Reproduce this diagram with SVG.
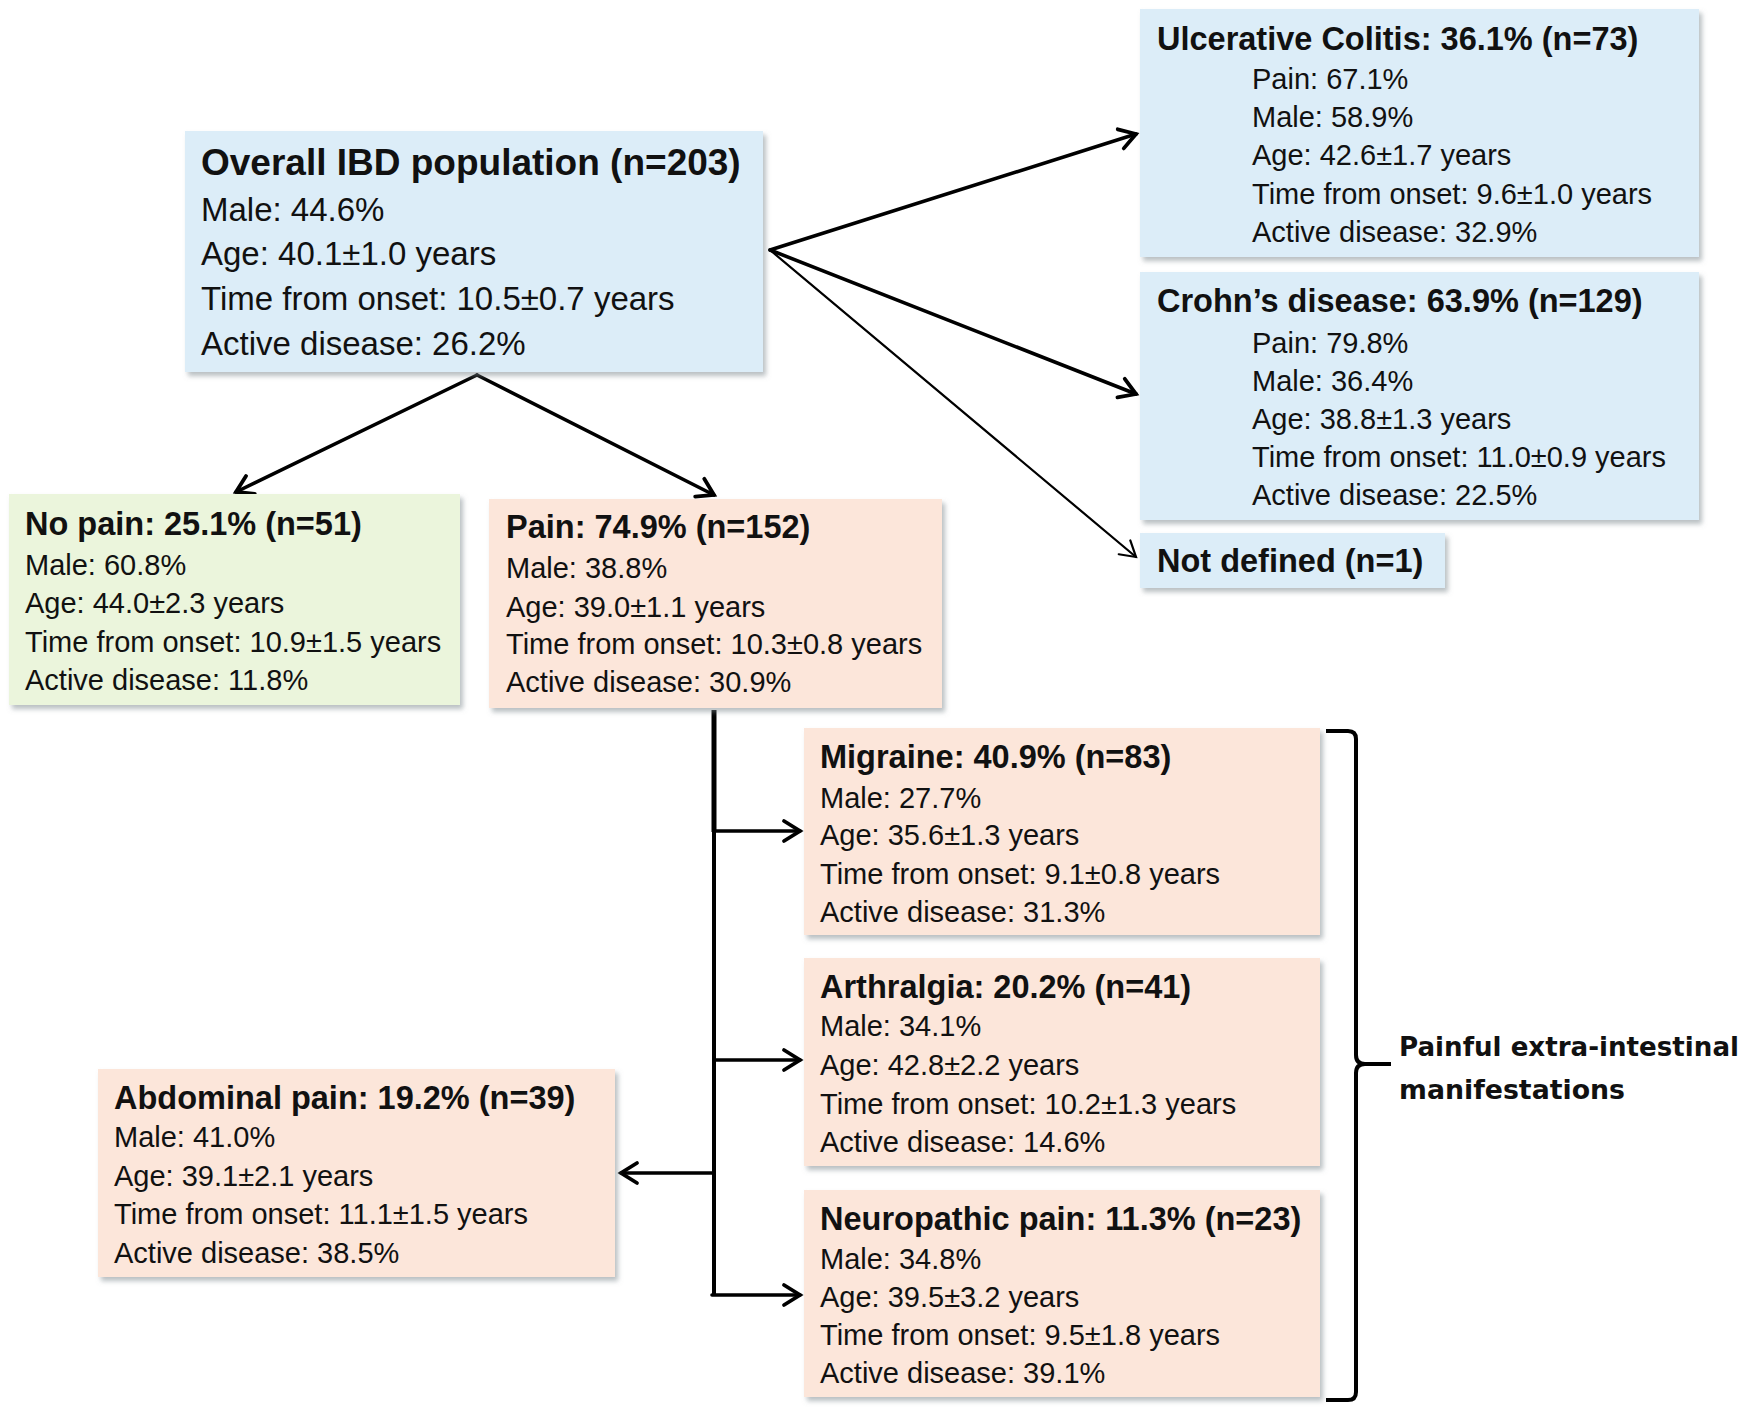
<svg xmlns="http://www.w3.org/2000/svg" width="1750" height="1412" viewBox="0 0 1750 1412">
<defs>
<filter id="sh" x="-5%" y="-5%" width="115%" height="120%">
<feDropShadow dx="3" dy="4" stdDeviation="2.5" flood-color="#7f8a90" flood-opacity="0.55"/>
</filter>
<marker id="ah" markerUnits="userSpaceOnUse" markerWidth="34" markerHeight="34" viewBox="-20 -17 34 34" refX="0" refY="0" orient="auto" overflow="visible">
<path d="M-16,-10 L0,0 L-16,10" fill="none" stroke="#000" stroke-width="3.8" stroke-linecap="round" stroke-linejoin="miter"/>
</marker>
<marker id="ahThin" markerUnits="userSpaceOnUse" markerWidth="34" markerHeight="34" viewBox="-20 -17 34 34" refX="0" refY="0" orient="auto" overflow="visible">
<path d="M-15,-9 L0,0 L-15,9" fill="none" stroke="#000" stroke-width="2.2" stroke-linecap="round"/>
</marker>
</defs>
<style>
.blue{fill:#dcedf8;filter:url(#sh)}
.green{fill:#ebf5dc;filter:url(#sh)}
.peach{fill:#fce6da;filter:url(#sh)}
text{font-family:"Liberation Sans",Arial,sans-serif;fill:#111}
.t1{font-size:37px;font-weight:bold}
.b1{font-size:33px}
.t2{font-size:32.5px;font-weight:bold}
.b2{font-size:29px}
.lab{font-family:"DejaVu Sans",Verdana,sans-serif;font-size:27px;font-weight:bold}
.ln{fill:none;stroke:#000;stroke-width:3.6;stroke-linecap:round}
</style>
<rect width="1750" height="1412" fill="#fff"/>

<g id="connectors">
<line class="ln" x1="477" y1="375" x2="236" y2="492" marker-end="url(#ah)"/>
<line class="ln" x1="477" y1="375" x2="714" y2="495" marker-end="url(#ah)"/>
<line class="ln" x1="770" y1="250" x2="1136" y2="134" stroke-width="4" marker-end="url(#ah)"/>
<line class="ln" x1="770" y1="250" x2="1136" y2="394" stroke-width="4" marker-end="url(#ah)"/>
<line class="ln" x1="770" y1="250" x2="1136" y2="557" style="stroke-width:2.2" marker-end="url(#ahThin)"/>
<line class="ln" x1="714" y1="710" x2="714" y2="832" style="stroke-width:5;stroke-linecap:butt"/>
<line class="ln" x1="714" y1="830" x2="714" y2="1295" style="stroke-width:4;stroke-linecap:butt"/>
<line class="ln" x1="714" y1="831" x2="800" y2="831" marker-end="url(#ah)"/>
<line class="ln" x1="714" y1="1060" x2="800" y2="1060" marker-end="url(#ah)"/>
<line class="ln" x1="712" y1="1295" x2="800" y2="1295" marker-end="url(#ah)"/>
<line class="ln" x1="714" y1="1173" x2="621" y2="1173" marker-end="url(#ah)"/>
</g>

<g id="overall">
<rect class="blue" x="185" y="131" width="578" height="241"/>
<text class="t1" x="201" y="175">Overall IBD population (n=203)</text>
<text class="b1" x="201" y="221">Male: 44.6%</text>
<text class="b1" x="201" y="265">Age: 40.1±1.0 years</text>
<text class="b1" x="201" y="310">Time from onset: 10.5±0.7 years</text>
<text class="b1" x="201" y="355">Active disease: 26.2%</text>
</g>

<g id="uc">
<rect class="blue" x="1140" y="9" width="559" height="248"/>
<text class="t2" x="1157" y="50">Ulcerative Colitis: 36.1% (n=73)</text>
<text class="b2" x="1252" y="89">Pain: 67.1%</text>
<text class="b2" x="1252" y="127">Male: 58.9%</text>
<text class="b2" x="1252" y="165">Age: 42.6±1.7 years</text>
<text class="b2" x="1252" y="204">Time from onset: 9.6±1.0 years</text>
<text class="b2" x="1252" y="242">Active disease: 32.9%</text>
</g>

<g id="cd">
<rect class="blue" x="1140" y="272" width="559" height="248"/>
<text class="t2" x="1157" y="312">Crohn’s disease: 63.9% (n=129)</text>
<text class="b2" x="1252" y="353">Pain: 79.8%</text>
<text class="b2" x="1252" y="391">Male: 36.4%</text>
<text class="b2" x="1252" y="429">Age: 38.8±1.3 years</text>
<text class="b2" x="1252" y="467">Time from onset: 11.0±0.9 years</text>
<text class="b2" x="1252" y="505">Active disease: 22.5%</text>
</g>

<g id="notdefined">
<rect class="blue" x="1140" y="533" width="305" height="55"/>
<text class="t2" x="1157" y="572">Not defined (n=1)</text>
</g>

<g id="nopain">
<rect class="green" x="9" y="494" width="451" height="211"/>
<text class="t2" x="25" y="535">No pain: 25.1% (n=51)</text>
<text class="b2" x="25" y="575">Male: 60.8%</text>
<text class="b2" x="25" y="613">Age: 44.0±2.3 years</text>
<text class="b2" x="25" y="652">Time from onset: 10.9±1.5 years</text>
<text class="b2" x="25" y="690">Active disease: 11.8%</text>
</g>

<g id="pain">
<rect class="peach" x="489" y="499" width="453" height="209"/>
<text class="t2" x="506" y="538">Pain: 74.9% (n=152)</text>
<text class="b2" x="506" y="578">Male: 38.8%</text>
<text class="b2" x="506" y="617">Age: 39.0±1.1 years</text>
<text class="b2" x="506" y="654">Time from onset: 10.3±0.8 years</text>
<text class="b2" x="506" y="692">Active disease: 30.9%</text>
</g>

<g id="migraine">
<rect class="peach" x="804" y="728" width="516" height="207"/>
<text class="t2" x="820" y="768">Migraine: 40.9% (n=83)</text>
<text class="b2" x="820" y="808">Male: 27.7%</text>
<text class="b2" x="820" y="845">Age: 35.6±1.3 years</text>
<text class="b2" x="820" y="884">Time from onset: 9.1±0.8 years</text>
<text class="b2" x="820" y="922">Active disease: 31.3%</text>
</g>

<g id="arthralgia">
<rect class="peach" x="804" y="958" width="516" height="208"/>
<text class="t2" x="820" y="998">Arthralgia: 20.2% (n=41)</text>
<text class="b2" x="820" y="1036">Male: 34.1%</text>
<text class="b2" x="820" y="1075">Age: 42.8±2.2 years</text>
<text class="b2" x="820" y="1114">Time from onset: 10.2±1.3 years</text>
<text class="b2" x="820" y="1152">Active disease: 14.6%</text>
</g>

<g id="neuropathic">
<rect class="peach" x="804" y="1190" width="516" height="207"/>
<text class="t2" x="820" y="1230">Neuropathic pain: 11.3% (n=23)</text>
<text class="b2" x="820" y="1269">Male: 34.8%</text>
<text class="b2" x="820" y="1307">Age: 39.5±3.2 years</text>
<text class="b2" x="820" y="1345">Time from onset: 9.5±1.8 years</text>
<text class="b2" x="820" y="1383">Active disease: 39.1%</text>
</g>

<g id="abdominal">
<rect class="peach" x="98" y="1069" width="517" height="208"/>
<text class="t2" x="114" y="1109">Abdominal pain: 19.2% (n=39)</text>
<text class="b2" x="114" y="1147">Male: 41.0%</text>
<text class="b2" x="114" y="1186">Age: 39.1±2.1 years</text>
<text class="b2" x="114" y="1224">Time from onset: 11.1±1.5 years</text>
<text class="b2" x="114" y="1263">Active disease: 38.5%</text>
</g>

<g id="bracket">
<path d="M1326,731 L1348,731 Q1356,731 1356,739 L1356,1055 Q1356,1064 1365,1064 L1391,1064 M1365,1064 Q1356,1064 1356,1073 L1356,1392 Q1356,1400 1348,1400 L1326,1400" fill="none" stroke="#000" stroke-width="4"/>
<text class="lab" x="1399" y="1056" textLength="340" lengthAdjust="spacingAndGlyphs">Painful extra-intestinal</text>
<text class="lab" x="1399" y="1099" textLength="226" lengthAdjust="spacingAndGlyphs">manifestations</text>
</g>
</svg>
